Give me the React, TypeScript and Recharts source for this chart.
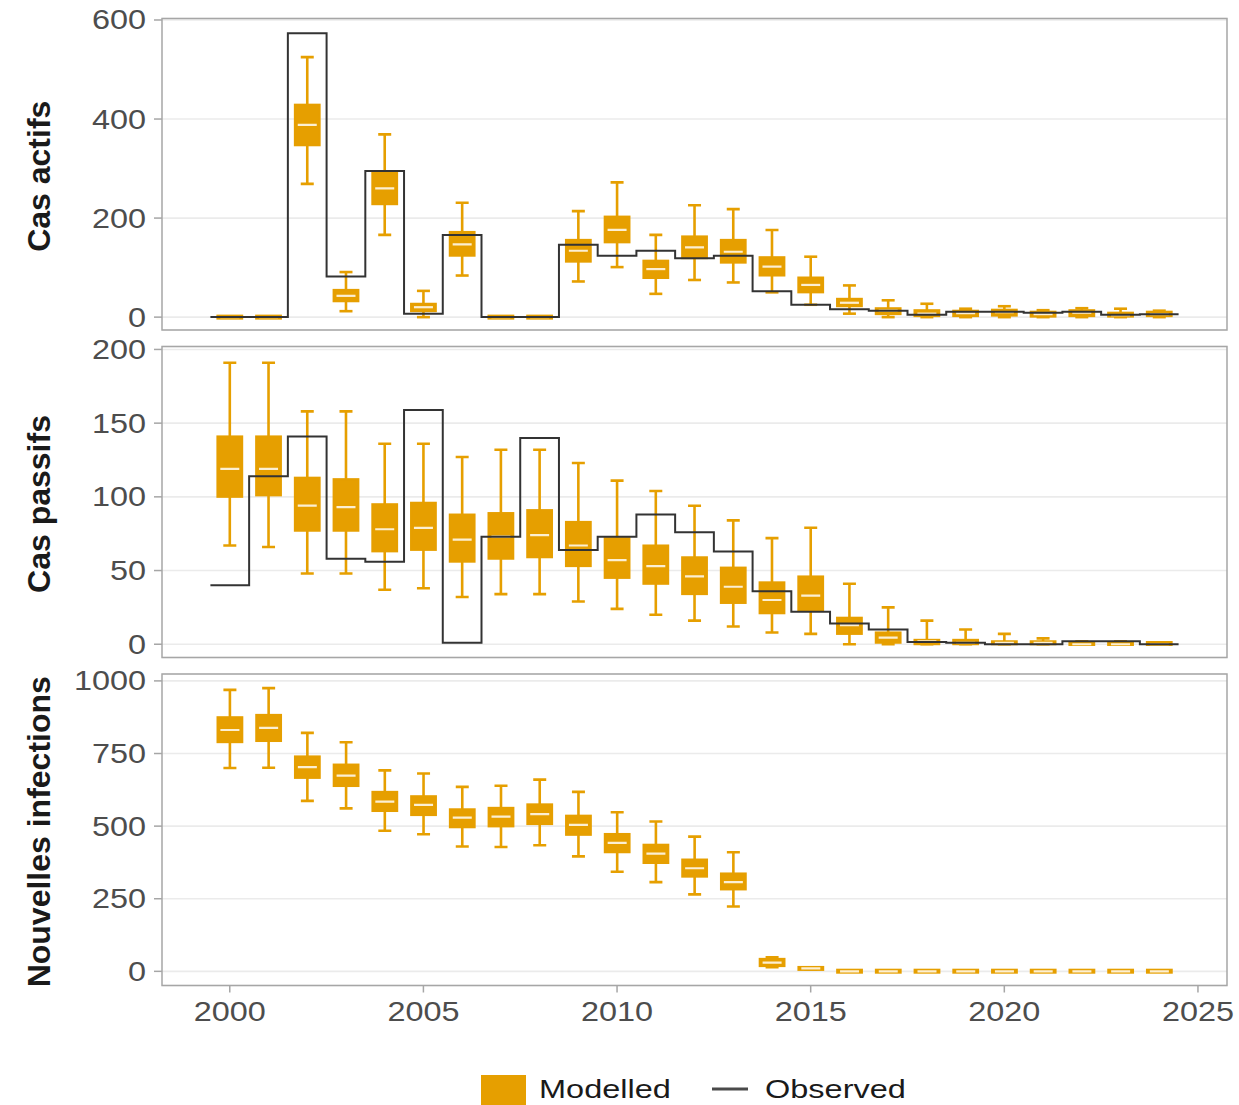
import React from 'react';
import { ComposedChart, Bar, Line, XAxis, YAxis, CartesianGrid, ReferenceArea } from 'recharts';

const ORANGE = '#E69F00';
const MEDIAN = '#FCEFD2';
const OBS = '#333333';
const GRID = '#EBEBEB';
const BORDER = '#A6A6A6';
const TEXT = '#4D4D4D';
const FONT = '"Liberation Sans", Arial, Helvetica, sans-serif';

const years = [2000, 2001, 2002, 2003, 2004, 2005, 2006, 2007, 2008, 2009, 2010, 2011, 2012,
  2013, 2014, 2015, 2016, 2017, 2018, 2019, 2020, 2021, 2022, 2023, 2024];
const xTicks = [2000, 2005, 2010, 2015, 2020, 2025];
const activeTicks = [0, 200, 400, 600];
const passiveTicks = [0, 50, 100, 150, 200];
const infectionTicks = [0, 250, 500, 750, 1000];

// Modelled boxes: [min, q1, median, q3, max]
const activeModelled = [
  [0, 0, 0, 0, 0], [0, 0, 0, 0, 0], [269, 347, 388, 429, 525], [12, 32, 43, 55, 91],
  [166, 228, 260, 292, 369], [0, 12, 20, 27, 53], [84, 124, 147, 172, 231], [0, 0, 0, 0, 0],
  [0, 0, 0, 0, 0], [72, 112, 134, 156, 214], [101, 151, 176, 203, 272], [47, 79, 97, 114, 166],
  [75, 119, 141, 163, 226], [70, 110, 132, 156, 218], [50, 84, 102, 121, 176], [25, 50, 65, 80, 122],
  [7, 22, 29, 37, 64], [0, 6, 13, 18, 34], [0, 2, 7, 14, 27], [0, 2, 8, 13, 17],
  [0, 3, 10, 15, 22], [0, 1, 6, 11, 14], [0, 2, 9, 14, 18], [0, 1, 4, 9, 17], [0, 2, 6, 11, 13],
];
const activeObserved = [0, 0, 573, 82, 295, 7, 166, 0, 0, 146, 124, 134, 119, 124, 52, 25, 16, 13, 5, 11, 11, 9, 11, 5, 6];

const passiveModelled = [
  [67, 100, 119, 141, 191], [66, 101, 119, 141, 191], [48, 77, 94, 113, 158], [48, 77, 93, 112, 158],
  [37, 63, 78, 95, 136], [38, 64, 79, 96, 136], [32, 56, 71, 88, 127], [34, 58, 73, 89, 132],
  [34, 59, 74, 91, 132], [29, 53, 67, 83, 123], [24, 45, 57, 72, 111], [20, 41, 53, 67, 104],
  [16, 34, 46, 59, 94], [12, 28, 39, 52, 84], [8, 21, 30, 42, 72], [7, 23, 33, 46, 79],
  [0, 7, 13, 18, 41], [0, 1, 4.5, 8, 25], [0, 0, 2, 3, 16], [0, 0, 1, 3, 10],
  [0, 0, 1, 2, 7], [0, 0, 1, 2, 4], [0, 0, 0, 1, 2], [0, 0, 0, 1, 2], [0, 0, 0, 1, 1],
];
const passiveObserved = [40, 114, 141, 58, 56, 159, 1, 73, 140, 64, 73, 88, 76, 63, 36, 22, 14, 10, 1.5, 1, 0, 0, 2, 2, 0];

const infectionsModelled = [
  [700, 789, 831, 875, 969], [701, 793, 838, 883, 975], [587, 666, 703, 740, 821], [561, 638, 674, 712, 789],
  [484, 552, 584, 618, 692], [472, 538, 573, 603, 681], [430, 496, 529, 558, 635], [428, 499, 533, 563, 639],
  [434, 507, 541, 575, 660], [396, 470, 504, 536, 618], [343, 410, 442, 473, 548], [307, 373, 405, 436, 516],
  [265, 326, 355, 385, 464], [223, 282, 307, 337, 410], [14, 18, 30, 43, 48], [7, 9, 10, 11, 13],
  [0, 0, 0, 1, 3], [0, 0, 0, 1, 3], [0, 0, 0, 1, 3], [0, 0, 0, 1, 3], [0, 0, 0, 1, 3],
  [0, 0, 0, 1, 3], [0, 0, 0, 1, 3], [0, 0, 0, 1, 3], [0, 0, 0, 1, 3],
];

const xDomain: [number, number] = [1998.25, 2025.75];

const boxData = (boxes: number[][]) => years.map((yr, i) => ({ x: yr, box: boxes[i] }));
const stepData = (obs: number[]) => [
  ...years.map((yr, i) => ({ x: yr - 0.5, obs: obs[i] })),
  { x: years[years.length - 1] + 0.5, obs: obs[obs.length - 1] },
];

const boxRange = (d: any) => (d && d.box ? [d.box[0], d.box[4]] : null);

const BoxShape = (props: any) => {
  const { x, y, width, height, payload } = props;
  if (!payload || !payload.box) return null;
  const [mn, q1, md, q3, mx] = payload.box;
  const top = Math.min(y, y + height);
  const bot = Math.max(y, y + height);
  const span = mx - mn;
  const py = (v: number) => (span === 0 ? bot : bot - ((v - mn) / span) * (bot - top));
  const cx = x + width / 2;
  const bw = 24.8;
  const cap = 13;
  const yq3 = py(q3);
  const yq1 = py(q1);
  const minH = 3;
  const boxH = Math.max(yq1 - yq3, minH);
  const boxY = (yq1 + yq3) / 2 - boxH / 2;
  return (
    <g>
      <line x1={cx} x2={cx} y1={py(mx)} y2={yq3} stroke={ORANGE} strokeWidth={2.6} />
      <line x1={cx} x2={cx} y1={yq1} y2={py(mn)} stroke={ORANGE} strokeWidth={2.6} />
      <line x1={cx - cap / 2} x2={cx + cap / 2} y1={py(mx)} y2={py(mx)} stroke={ORANGE} strokeWidth={2.6} />
      <line x1={cx - cap / 2} x2={cx + cap / 2} y1={py(mn)} y2={py(mn)} stroke={ORANGE} strokeWidth={2.6} />
      <rect x={cx - bw / 2} y={boxY} width={bw} height={boxH} fill={ORANGE} stroke={ORANGE} strokeWidth={2} />
      <line x1={cx - 9.5} x2={cx + 9.5} y1={py(md)} y2={py(md)} stroke={MEDIAN} strokeWidth={2.2} />
    </g>
  );
};

const YTick = (props: any) => {
  const { x, y, payload } = props;
  return (
    <g transform={`translate(${x},${y})`}>
      <text transform="scale(1.2,1)" textAnchor="end" dominantBaseline="central" fontSize={27} fill={TEXT} fontFamily={FONT}>
        {payload.value}
      </text>
    </g>
  );
};

const XTick = (props: any) => {
  const { x, y, payload } = props;
  return (
    <g transform={`translate(${x},${y})`}>
      <text transform="scale(1.2,1)" textAnchor="middle" dy="0.71em" fontSize={27} fill={TEXT} fontFamily={FONT}>
        {payload.value}
      </text>
    </g>
  );
};

const TitleLabel = (props: any) => {
  const { viewBox, value } = props;
  if (!viewBox) return null;
  const cx = viewBox.x + 50;
  const cy = viewBox.y + viewBox.height / 2 + 2;
  return (
    <text x={cx} y={cy} transform={`rotate(-90, ${cx}, ${cy})`} textAnchor="middle" fontSize={32} fontWeight="bold" fill="#1A1A1A" fontFamily={FONT}>
      {value}
    </text>
  );
};

const PANELS = [
  { key: 'active', title: 'Cas actifs', boxes: activeModelled, observed: activeObserved, ticks: activeTicks,
    domain: [-26, 603] as [number, number], top: 0, height: 332, plotTop: 18.5, plotBottom: 330, showX: false },
  { key: 'passive', title: 'Cas passifs', boxes: passiveModelled, observed: passiveObserved, ticks: passiveTicks,
    domain: [-9, 202] as [number, number], top: 332, height: 334, plotTop: 346.5, plotBottom: 657.5, showX: false },
  { key: 'inf', title: 'Nouvelles infections', boxes: infectionsModelled, observed: null as number[] | null, ticks: infectionTicks,
    domain: [-48.75, 1023.75] as [number, number], top: 666, height: 439, plotTop: 674, plotBottom: 985.5, showX: true },
];

const X_AXIS_H = 40;

export default function App() {
  return (
    <div style={{ position: 'absolute', left: 0, top: 0, width: 1239, height: 1105, background: '#fff', fontFamily: FONT }}>
      {PANELS.map((p) => {
        const xh = p.showX ? X_AXIS_H : 0;
        const margin = {
          top: p.plotTop - p.top,
          bottom: p.top + p.height - p.plotBottom - xh,
          left: 0,
          right: 12,
        };
        return (
          <div key={p.key} style={{ position: 'absolute', left: 0, top: p.top, width: 1239, height: p.height }}>
            <ComposedChart width={1239} height={p.height} data={boxData(p.boxes)} margin={margin} style={{ overflow: 'visible' }}>
              <CartesianGrid vertical={false} stroke={GRID} strokeWidth={1.6} />
              <XAxis
                dataKey="x"
                type="number"
                domain={xDomain}
                allowDataOverflow
                ticks={xTicks}
                interval={0}
                hide={!p.showX}
                height={X_AXIS_H}
                axisLine={false}
                tickLine={{ stroke: BORDER, strokeWidth: 1.5 }}
                tickSize={7}
                tickMargin={9.5}
                tick={<XTick />}
              />
              <YAxis
                type="number"
                domain={p.domain}
                allowDataOverflow
                ticks={p.ticks}
                interval={0}
                width={162}
                axisLine={false}
                tickLine={{ stroke: BORDER, strokeWidth: 1.5 }}
                tickSize={8}
                tickMargin={8}
                tick={<YTick />}
                label={{ value: p.title, content: <TitleLabel /> }}
              />
              <ReferenceArea
                x1={xDomain[0]}
                x2={xDomain[1]}
                y1={p.domain[0]}
                y2={p.domain[1]}
                fill="none"
                fillOpacity={0}
                stroke={BORDER}
                strokeWidth={1.5}
                ifOverflow="visible"
              />
              {p.observed && (
                <Line
                  data={stepData(p.observed)}
                  dataKey="obs"
                  type="stepAfter"
                  stroke={OBS}
                  strokeWidth={2}
                  dot={false}
                  activeDot={false}
                  isAnimationActive={false}
                />
              )}
              <Bar
                dataKey={boxRange}
                barSize={25}
                isAnimationActive={false}
                shape={(props: any) => <BoxShape {...props} />}
              />
            </ComposedChart>
          </div>
        );
      })}
      <svg style={{ position: 'absolute', left: 0, top: 0 }} width={1239} height={1105}>
        <rect x={481} y={1075} width={45} height={45} fill={ORANGE} />
        <g transform="translate(539,1089) scale(1.3,1)">
          <text x={0} y={0} dominantBaseline="central" fontSize={25} fill="#1A1A1A" fontFamily={FONT}>Modelled</text>
        </g>
        <line x1={712} x2={748} y1={1089} y2={1089} stroke="#4A4A4A" strokeWidth={3} />
        <g transform="translate(765,1089) scale(1.3,1)">
          <text x={0} y={0} dominantBaseline="central" fontSize={25} fill="#1A1A1A" fontFamily={FONT}>Observed</text>
        </g>
      </svg>
    </div>
  );
}
